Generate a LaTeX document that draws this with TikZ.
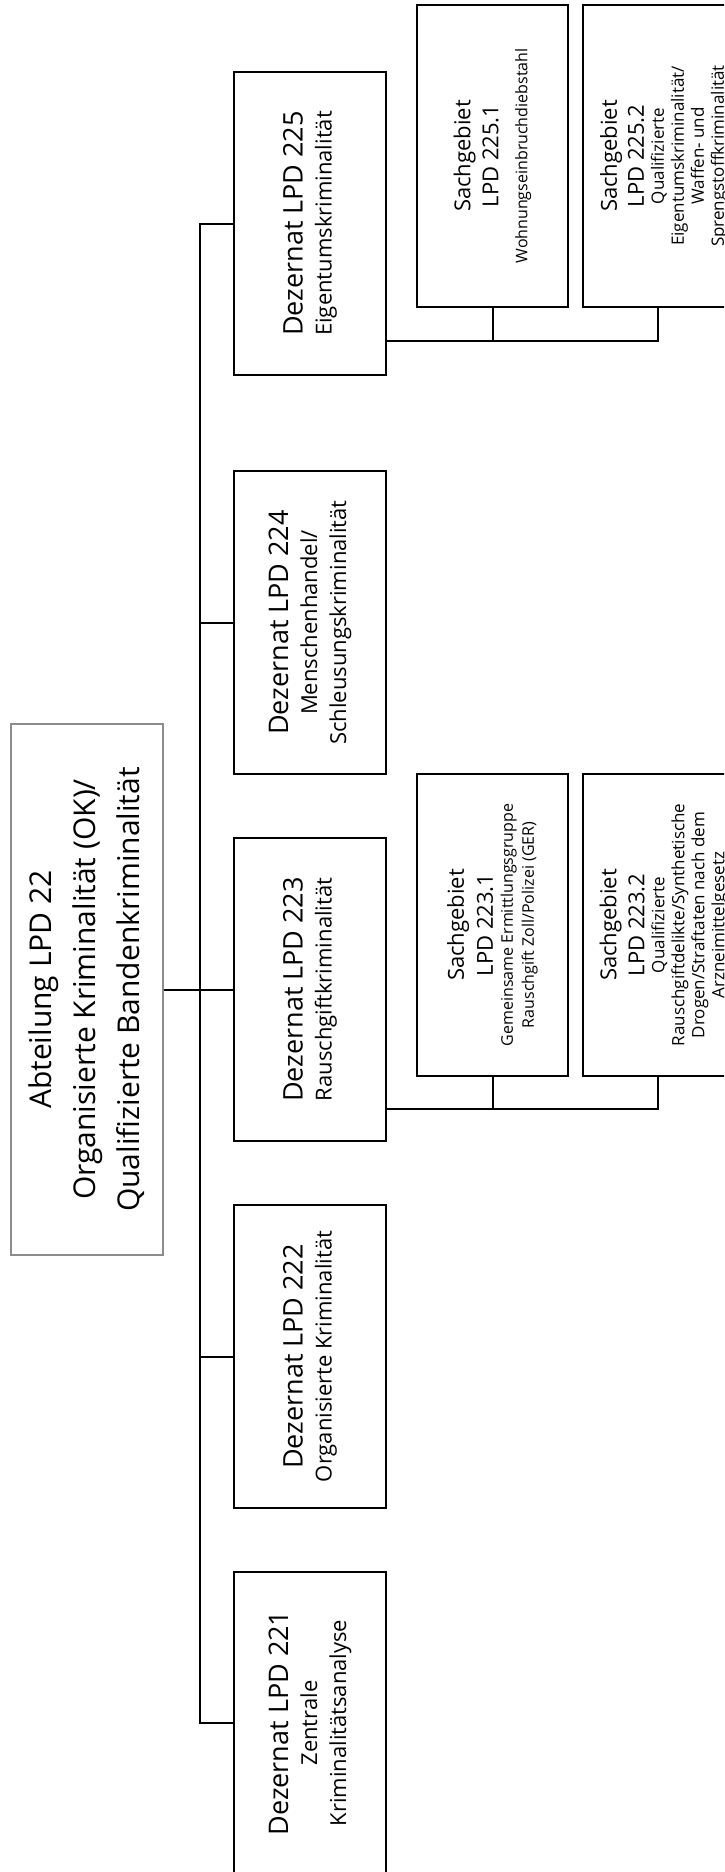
\documentclass[tikz,border=0pt]{standalone}
\usepackage{fontspec}
\setmainfont{Open Sans}
\usetikzlibrary{calc}
% font sizes for the different text levels
\newcommand\fsTitle{\fontsize{30}{44}\selectfont}
\newcommand\fsDez{\fontsize{27}{29}\selectfont}
\newcommand\fsDsub{\fontsize{22}{29}\selectfont}
\newcommand\fsSach{\fontsize{22}{20}\selectfont}
\newcommand\fsSmall{\fontsize{16}{20}\selectfont}
\newcommand\fsDetail{\fontsize{17}{20}\selectfont}
% centred stack of lines with a fixed baseline pitch (#1)
\newcommand\linestack[2]{\vbox{\baselineskip=#1\lineskiplimit=-1000pt\lineskip=0pt
  \halign{\hfil##\hfil\cr#2\crcr}}}
\newcommand\gap[1]{\noalign{\vskip#1}}
\tikzset{
  orgbox/.style={draw=black, line width=2pt, rotate=90,
    inner sep=0pt, minimum width=303pt, minimum height=152pt, fill=white},
  headbox/.style={draw=black!45, line width=1.5pt, rotate=90,
    inner sep=0pt, minimum width=531pt, minimum height=152pt, fill=white},
  subbox/.style={orgbox, minimum width=302pt, minimum height=151pt},
  link/.style={draw=black, line width=2pt, line join=miter}
}
\begin{document}
\begin{tikzpicture}[x=1pt, y=-1pt]
\useasboundingbox (0,0) rectangle (724,1872);
\clip (0,0) rectangle (724,1872);
\fill[white] (0,0) rectangle (724,1872);

% department head
\node[headbox] (head) at (87,989.5)
  {\linestack{44pt}{\fsTitle Abteilung LPD 22\cr
    \fsTitle Organisierte Kriminalität (OK)/\cr
    \fsTitle Qualifizierte Bandenkriminalität}};

% divisions
\node[orgbox] (d225) at (310,223.5)
  {\linestack{29pt}{\fsDez Dezernat LPD 225\cr \fsDsub Eigentumskriminalität}};
\node[orgbox] (d224) at (310,622.5)
  {\linestack{29pt}{\fsDez Dezernat LPD 224\cr \fsDsub Menschenhandel/\cr
    \fsDsub Schleusungskriminalität}};
\node[orgbox] (d223) at (310,989.5)
  {\linestack{29pt}{\fsDez Dezernat LPD 223\cr \fsDsub Rauschgiftkriminalität}};
\node[orgbox] (d222) at (310,1356.5)
  {\linestack{29pt}{\fsDez Dezernat LPD 222\cr \fsDsub Organisierte Kriminalität}};
\node[orgbox] (d221) at (310,1723)
  {\linestack{29pt}{\fsDez Dezernat LPD 221\cr \fsDsub Zentrale\cr
    \fsDsub Kriminalitätsanalyse}};

% sections
\node[subbox] (s2251) at (492.5,156)
  {\linestack{20pt}{\fsSach Sachgebiet\cr\gap{8pt}
    \fsSach LPD 225.1\cr\gap{9pt}
    \fsSmall Wohnungseinbruchdiebstahl}};
\node[subbox] (s2252) at (658,156)
  {\linestack{20pt}{\gap{12pt}\fsSach Sachgebiet\cr\gap{7pt}
    \fsSach LPD 225.2\cr
    \fsDetail Qualifizierte\cr
    \fsDetail Eigentumskriminalität/\cr
    \fsDetail Waffen- und\cr
    \fsDetail Sprengstoffkriminalität}};
\node[subbox] (s2231) at (492.5,925)
  {\linestack{20pt}{\fsSach Sachgebiet\cr\gap{9pt}
    \fsSach LPD 223.1\cr
    \fsSmall Gemeinsame Ermittlungsgruppe\cr\gap{1pt}
    \fsSmall Rauschgift Zoll/Polizei (GER)}};
\node[subbox] (s2232) at (658,925)
  {\linestack{20pt}{\gap{12pt}\fsSach Sachgebiet\cr\gap{8pt}
    \fsSach LPD 223.2\cr
    \fsDetail Qualifizierte\cr
    \fsDetail Rauschgiftdelikte/Synthetische\cr
    \fsDetail Drogen/Straftaten nach dem\cr
    \fsDetail Arzneimittelgesetz}};

% trunk from the head to the divisions
\draw[link] (head.south) -- ++(36,0) coordinate (hub);
\foreach \d in {d225,d224,d223,d222,d221}
  \draw[link] (\d.north) -| (hub);

% section buses
\coordinate (bus225) at ($(s2251.west)+(0,33)$);
\draw[link] (d225.south |- bus225) -- (bus225 -| s2252.west) -- (s2252.west);
\draw[link] (s2251.west) -- (bus225);
\coordinate (bus223) at ($(s2231.west)+(0,32)$);
\draw[link] (d223.south |- bus223) -- (bus223 -| s2232.west) -- (s2232.west);
\draw[link] (s2231.west) -- (bus223);
\end{tikzpicture}
\end{document}
